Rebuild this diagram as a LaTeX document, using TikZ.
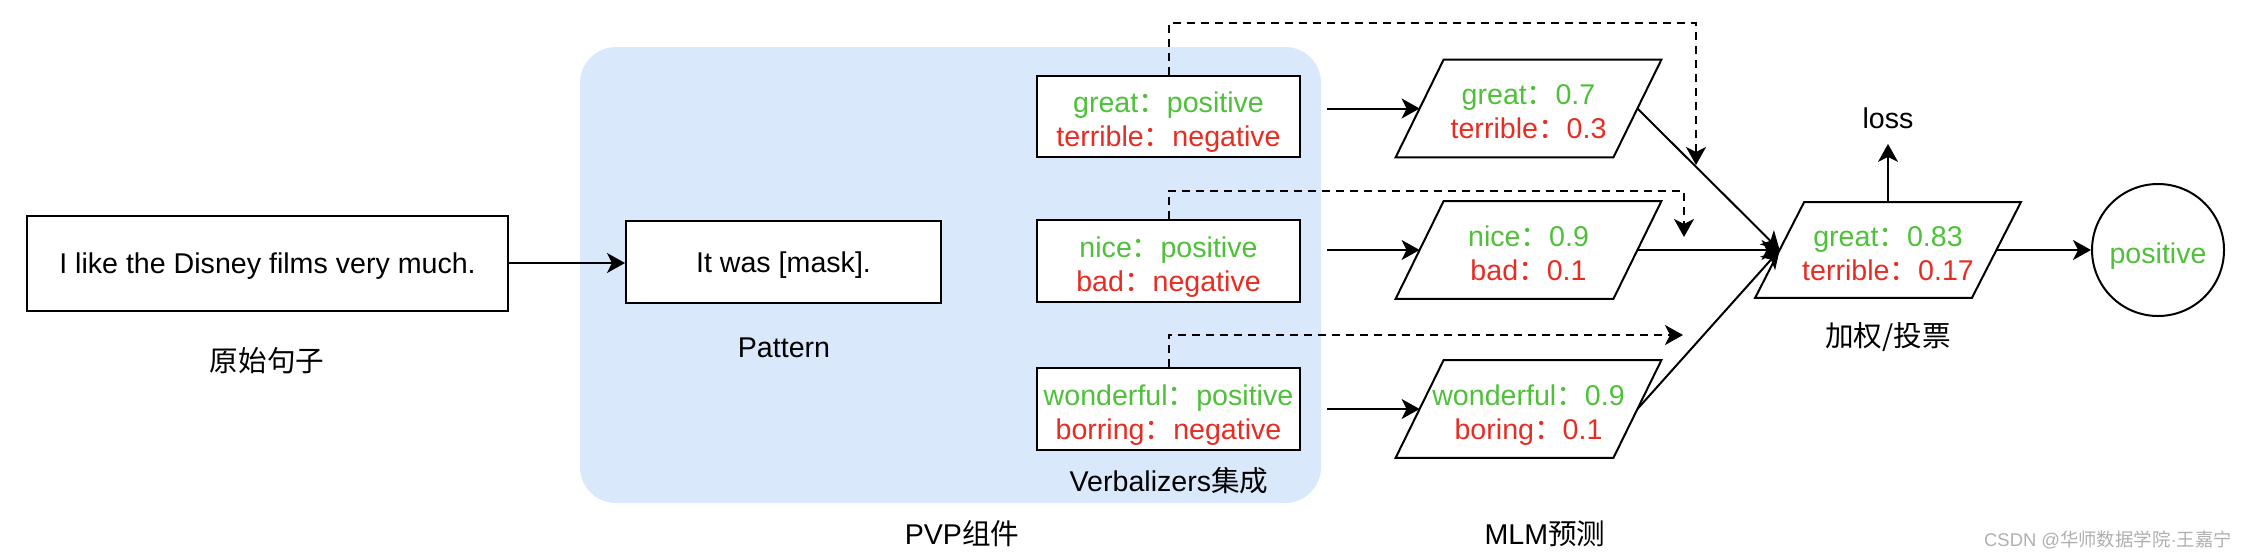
\documentclass[tikz,border=0pt]{standalone}
\usepackage{fontspec}
\setmainfont{Liberation Sans}
\newfontfamily\cjk{Noto Sans CJK SC}
\usetikzlibrary{arrows.meta,calc}
\definecolor{vgreen}{RGB}{78,192,58}
\definecolor{vred}{RGB}{230,45,35}
\definecolor{bgblue}{RGB}{218,232,252}
\definecolor{wmgray}{RGB}{175,175,175}
% push content down by half of #1 (adds invisible height on top)
\newcommand{\down}[2]{\raisebox{0pt}[\dimexpr\height+#1\relax][\depth]{#2}}
\newcommand{\twol}[2]{\down{6.4pt}{\begin{tabular}{@{}c@{}}#1\\#2\end{tabular}}}
\newcommand{\onel}[1]{\down{2.8pt}{#1}}
\begin{document}
\begin{tikzpicture}[x=0.5pt,y=-0.5pt,
  every node/.style={font=\fontsize{14.3}{17.2}\selectfont, inner sep=0pt, align=center},
  box/.style={draw, line width=1pt, fill=white},
  vbox/.style={box, minimum width=131.5pt, minimum height=40.5pt},
  para/.style={minimum width=108.5pt, minimum height=48.5pt},
  tip/.style={-{Stealth[length=9pt,width=10pt,inset=2.5pt]}},
  arr/.style={line width=1pt, tip},
  dsh/.style={line width=1pt, dash pattern=on 4pt off 3pt, tip}
]
\useasboundingbox (0,0) rectangle (2252,558);

% background group
\node[fill=bgblue, rounded corners=18pt, minimum width=370.5pt, minimum height=228pt] (pvp) at (950.5,275) {};

% input sentence
\node[box, minimum width=240.5pt, minimum height=47.5pt] (sent) at (267.5,263) {\onel{I like the Disney films very much.}};
\node (orig) at (267,361) {{\cjk 原始句子}};

% pattern
\node[box, minimum width=157.5pt, minimum height=41pt] (mask) at (783.5,262) {\onel{It was [mask].}};
\node (pattern) at (784,348) {Pattern};

% verbalizers
\node[vbox] (v1) at (1168.5,116.5) {\twol{\textcolor{vgreen}{great{\cjk ：}positive}}{\textcolor{vred}{terrible{\cjk ：}negative}}};
\node[vbox] (v2) at (1168.5,261) {\twol{\textcolor{vgreen}{nice{\cjk ：}positive}}{\textcolor{vred}{bad{\cjk ：}negative}}};
\node[vbox] (v3) at (1168.5,409) {\twol{\textcolor{vgreen}{wonderful{\cjk ：}positive}}{\textcolor{vred}{borring{\cjk ：}negative}}};
\node (verb) at (1169,481) {Verbalizers{\cjk 集成}};
\node (pvplabel) at (962,534) {PVP{\cjk 组件}};

% MLM predictions
\node[para] (p1) at (1528.5,108.5) {\twol{\textcolor{vgreen}{great{\cjk ：}0.7}}{\textcolor{vred}{terrible{\cjk ：}0.3}}};
\node[para] (p2) at (1528.5,250) {\twol{\textcolor{vgreen}{nice{\cjk ：}0.9}}{\textcolor{vred}{bad{\cjk ：}0.1}}};
\node[para] (p3) at (1528.5,409) {\twol{\textcolor{vgreen}{wonderful{\cjk ：}0.9}}{\textcolor{vred}{boring{\cjk ：}0.1}}};
\node (mlm) at (1545,534) {MLM{\cjk 预测}};

% aggregation
\node[minimum width=108pt, minimum height=47.5pt] (agg) at (1888,250) {\twol{\textcolor{vgreen}{great{\cjk ：}0.83}}{\textcolor{vred}{terrible{\cjk ：}0.17}}};
\node (vote) at (1888,337) {{\cjk 加权/投票}};
\node (loss) at (1888,118) {loss};
\node[draw, circle, line width=1pt, minimum size=66pt] (pos) at (2158,250) {\down{5.8pt}{\textcolor{vgreen}{positive}}};

% parallelogram outlines
\foreach \n/\s in {p1/24,p2/24,p3/24,agg/24.5}
  \draw[line width=1pt] ($(\n.north west)+(\s,0)$) -- ($(\n.north east)+(\s,0)$)
     -- ($(\n.south east)+(-\s,0)$) -- ($(\n.south west)+(-\s,0)$) -- cycle;

% connectors
\draw[arr] (sent.east) -- (sent.east -| mask.west);
\draw[arr, shorten <=13pt] (v1.east |- p1.west) -- (p1.west);
\draw[arr, shorten <=13pt] (v2.east |- p2.west) -- (p2.west);
\draw[arr, shorten <=13pt] (v3.east |- p3.west) -- (p3.west);
\draw[arr] (p1.east) -- (agg.west);
\draw[arr] (p2.east) -- (agg.west);
\draw[arr] (p3.east) -- (agg.west);
\draw[arr, shorten >=7.5pt] (agg.north) -- (loss.south);
\draw[arr] (agg.east) -- (pos.west);

% dashed feedback lines
\coordinate (d1b) at (1696,23);
\coordinate (d1c) at (1696,165);
\coordinate (d2b) at (1684,191);
\coordinate (d2c) at (1684,237);
\coordinate (d3b) at (1683,335);
\draw[dsh] (v1.north) |- (d1b) -- (d1c);
\draw[dsh] (v2.north) |- (d2b) -- (d2c);
\draw[dsh] (v3.north) |- (d3b);

% watermark
\node[text=wmgray, font=\fontsize{9.2}{11}\selectfont] (wm) at (2108,540) {CSDN @{\cjk 华师数据学院}·{\cjk 王嘉宁}};
\end{tikzpicture}
\end{document}
